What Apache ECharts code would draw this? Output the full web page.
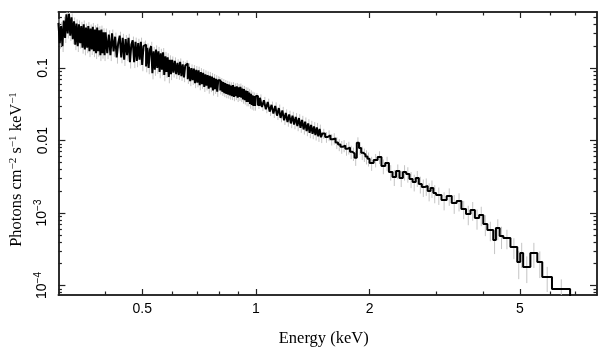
<!DOCTYPE html>
<html><head><meta charset="utf-8">
<script src="https://cdn.jsdelivr.net/npm/echarts@6/dist/echarts.min.js"></script>
<style>html,body{margin:0;padding:0;background:#fff}#c{width:608px;height:357px}</style>
</head><body><div id="c"></div>
<script>
// Bin edges (keV) – contiguous bins; last value is the upper edge of the final bin
const binEdges = [
  0.3000,0.3025,0.3050,0.3075,0.3100,0.3125,0.3150,0.3175,0.3200,0.3225,0.3250,0.3275,0.3300,0.3325,0.3350,0.3375,0.3400,0.3425,0.3450,0.3475,
  0.3500,0.3525,0.3550,0.3575,0.3600,0.3625,0.3650,0.3675,0.3700,0.3725,0.3750,0.3775,0.3800,0.3825,0.3850,0.3875,0.3900,0.3925,0.3950,0.3975,
  0.400,0.404,0.408,0.412,0.416,0.420,0.424,0.428,0.432,0.436,0.440,0.444,0.448,0.452,0.456,0.460,0.464,0.468,0.472,0.476,
  0.480,0.484,0.488,0.492,0.496,0.500,0.504,0.508,0.512,0.516,0.520,0.524,0.528,0.532,0.536,0.540,0.544,0.548,0.552,0.556,
  0.560,0.564,0.568,0.572,0.576,0.580,0.584,0.588,0.592,0.596,
  0.600,0.605,0.610,0.615,0.620,0.625,0.630,0.635,0.640,0.645,0.650,0.655,0.660,0.665,0.670,0.675,0.680,0.685,0.690,0.695,
  0.700,0.705,0.710,0.715,0.720,0.725,0.730,0.735,0.740,0.745,0.750,0.755,0.760,0.765,0.770,0.775,0.780,0.785,0.790,0.795,
  0.800,0.805,0.810,0.815,0.820,0.825,0.830,0.835,0.840,0.845,0.850,0.855,0.860,0.865,0.870,0.875,0.880,0.885,0.890,0.895,
  0.900,0.905,0.910,0.915,0.920,0.925,0.930,0.935,0.940,0.945,0.950,0.955,0.960,0.965,0.970,0.975,0.980,0.985,0.990,0.995,
  1.0000,1.0125,1.0250,1.0375,1.0500,1.0625,1.0750,1.0875,1.1000,1.1125,1.1250,1.1375,1.1500,1.1625,1.1750,1.1875,1.2000,1.2125,1.2250,1.2375,
  1.2500,1.2625,1.2750,1.2875,1.3000,1.3125,1.3250,1.3375,1.3500,1.3625,1.3750,1.3875,1.4000,1.4125,1.4250,1.4375,1.4500,1.4625,1.4750,1.4875,
  1.500,1.525,1.550,1.575,1.600,1.625,1.650,1.675,1.700,1.725,1.750,1.775,1.800,1.825,1.850,1.875,1.900,1.925,1.950,1.975,
  2.00,2.05,2.10,2.15,2.20,2.25,2.30,2.35,2.40,2.45,2.50,2.55,2.60,2.65,2.70,2.75,2.80,2.85,2.90,2.95,3.0,3.1,3.2,3.3,3.4,
  3.5,3.6,3.7,3.8,3.9,4.0,4.1,4.25,4.32,4.42,4.52,4.72,4.92,5.01,5.10,5.33,5.56,5.73,6.08,6.79
];
// Photons cm^-2 s^-1 keV^-1 per bin
const flux = [
  0.42,0.22,0.38,0.20,0.45,0.26,0.55,0.30,0.56,0.28,0.50,0.25,0.44,0.21,0.41,0.20,0.40,0.22,0.38,0.19,
  0.40,0.18,0.36,0.19,0.38,0.17,0.35,0.18,0.37,0.17,0.34,0.16,0.36,0.17,0.33,0.15,0.34,0.16,0.31,0.15,
  0.31,0.16,0.29,0.15,0.30,0.17,0.27,0.14,0.22,0.28,0.14,0.26,0.13,0.25,0.15,0.26,0.12,0.21,0.24,0.12,
  0.23,0.125,0.22,0.13,0.23,0.11,0.20,0.21,0.105,0.19,0.10,0.18,0.20,0.085,0.17,0.095,0.18,0.10,0.17,0.088,
  0.16,0.095,0.165,0.080,0.145,0.088,0.14,0.075,0.13,0.082,
  0.130,0.086,0.125,0.082,0.118,0.080,0.122,0.077,0.112,0.074,0.108,0.115,0.070,0.104,0.066,0.100,0.068,0.098,0.062,0.094,
  0.063,0.093,0.058,0.088,0.060,0.086,0.055,0.082,0.057,0.080,0.052,0.078,0.054,0.076,0.049,0.073,0.051,0.071,0.047,0.068,
  0.068,0.049,0.066,0.047,0.064,0.045,0.062,0.044,0.060,0.043,0.059,0.042,0.057,0.041,0.058,0.040,0.055,0.041,0.056,0.039,
  0.054,0.040,0.055,0.039,0.052,0.037,0.051,0.036,0.049,0.034,0.048,0.034,0.046,0.032,0.044,0.031,0.042,0.030,0.041,0.030,
  0.041,0.031,0.039,0.029,0.036,0.027,0.034,0.025,0.031,0.0235,0.030,0.022,0.028,0.0205,0.026,0.0190,0.024,0.0180,0.0228,0.0172,
  0.0220,0.0166,0.0212,0.0158,0.0204,0.0150,0.0192,0.0142,0.0182,0.0135,0.0172,0.0128,0.0164,0.0124,0.0156,0.0119,0.0152,0.0114,0.0144,0.0111,
  0.0125,0.0112,0.0118,0.0104,0.0107,0.0094,0.0088,0.0082,0.0085,0.0077,0.0080,0.0070,0.0066,0.0058,0.0093,0.0079,0.0068,0.0064,0.0060,0.0056,
  0.00489,0.00538,0.00592,0.00445,0.00489,0.00368,0.00314,0.00380,0.00304,0.00368,0.00345,0.00294,0.00268,0.00304,0.00251,0.00228,0.00236,0.00201,0.00221,0.00189,0.00177,0.00151,0.00172,0.00137,0.00146,
  0.00114,0.000969,0.00110,0.000853,0.000938,0.000705,0.000583,0.000424,0.000621,0.000482,0.000452,0.000340,0.000211,0.000281,0.000180,0.000281,0.000211,0.000131,0.0000895
];
// 1-sigma error per bin, percent of flux
const errPct = [
  13,16,14,17,13,15,12,15,12,16,13,15,13,16,14,17,13,16,14,17,13,17,14,16,13,17,14,16,13,17,14,17,13,16,14,17,13,16,14,17,
  13,17,14,17,13,16,14,18,15,13,17,14,18,14,17,14,18,15,13,17,14,18,15,17,14,18,15,14,17,15,18,14,15,18,15,18,14,17,15,18,15,17,14,18,15,17,14,18,15,17,
  11,14,12,14,12,14,11,14,12,14,12,11,14,12,15,12,14,12,15,13,14,12,15,13,14,12,15,13,14,12,15,13,14,12,15,13,14,12,15,13,
  10,12,10,12,10,12,10,13,11,12,10,13,11,12,10,13,11,12,11,13,11,12,11,13,11,13,11,13,11,13,12,13,12,14,12,14,12,14,12,14,
  10,12,11,12,11,12,11,13,11,13,12,13,12,13,12,14,12,14,13,14,13,14,13,15,13,15,14,15,14,15,14,16,14,16,15,16,15,16,15,17,
  16,17,17,18,18,19,19,20,19,20,20,21,21,23,19,20,21,21,22,22,
  22,21,20,23,22,24,25,23,25,24,24,25,26,25,26,27,27,28,27,28,27,28,27,29,28,
  28,30,29,31,30,32,30,36,32,34,30,32,42,38,40,38,40,38,36
];
const xMajorTicks = [0.5, 1, 2, 5];
const xMinorTicks = [0.4, 0.6, 0.7, 0.8, 0.9, 3, 4, 6, 7];
const yMajorTicks = [0.0001, 0.001, 0.01, 0.1];
const yMinorTicks = [0.00008,0.00009,0.0002,0.0003,0.0004,0.0005,0.0006,0.0007,0.0008,0.0009,
  0.002,0.003,0.004,0.005,0.006,0.007,0.008,0.009,0.02,0.03,0.04,0.05,0.06,0.07,0.08,0.09,0.2,0.3,0.4,0.5];
const yTickLabels = {'0.0001':'10{sup|−4}','0.001':'10{sup|−3}','0.01':'0.01','0.1':'0.1'};
const xTickLabels = {'0.5':'0.5','1':'1','2':'2','5':'5'};

const X_MIN = 0.3, X_MAX = 8.0, Y_MIN = 7.4e-5, Y_MAX = 0.592;

// step line points
const nBins = flux.length;
const linePts = [];
for (let i = 0; i < nBins; i++) linePts.push([binEdges[i], flux[i]]);
linePts.push([binEdges[nBins], flux[nBins - 1]]);
linePts.push([binEdges[nBins], 1e-7]);

// error bars at bin centres
const errData = flux.map((f, i) => [
  (binEdges[i] + binEdges[i + 1]) / 2, f * (1 - errPct[i] / 100), f * (1 + errPct[i] / 100)
]);

const lineCol = '#222';
function xAx(pos, ticks, len, showLabel, extra) {
  return Object.assign({
    type: 'log', logBase: 10, min: X_MIN, max: X_MAX, position: pos, gridIndex: 0,
    axisLine: { show: true, onZero: false, lineStyle: { color: lineCol, width: 1.5 } },
    axisTick: { show: true, inside: true, length: len, customValues: ticks, lineStyle: { color: lineCol, width: 1.2 } },
    axisLabel: showLabel ? {
      show: true, customValues: ticks, margin: 7, color: '#000', fontFamily: 'Liberation Sans', fontSize: 14,
      formatter: v => xTickLabels[String(+v.toPrecision(6))] || ''
    } : { show: false },
    splitLine: { show: false }, minorTick: { show: false }
  }, extra || {});
}
function yAx(pos, ticks, len, showLabel, extra) {
  return Object.assign({
    type: 'log', logBase: 10, min: Y_MIN, max: Y_MAX, position: pos, gridIndex: 0,
    axisLine: { show: true, onZero: false, lineStyle: { color: lineCol, width: 1.5 } },
    axisTick: { show: true, inside: true, length: len, customValues: ticks, lineStyle: { color: lineCol, width: 1.2 } },
    axisLabel: showLabel ? {
      show: true, customValues: ticks, rotate: 90, margin: 8, color: '#000', fontFamily: 'Liberation Sans', fontSize: 14,
      formatter: v => yTickLabels[String(+v.toPrecision(6))] || '',
      rich: { sup: { fontSize: 10, verticalAlign: 'bottom', padding: [0, 0, 7, 0], fontFamily: 'Liberation Sans', color: '#000' } }
    } : { show: false },
    splitLine: { show: false }, minorTick: { show: false }
  }, extra || {});
}

const chart = echarts.init(document.getElementById('c'), null, { renderer: 'canvas' });
chart.setOption({
  animation: false,
  backgroundColor: '#fff',
  grid: { left: 55, right: 11, top: 12, bottom: 62, containLabel: false },
  xAxis: [
    xAx('bottom', xMajorTicks, 6, true, {
      name: 'Energy (keV)', nameLocation: 'middle', nameGap: 35,
      nameTextStyle: { fontFamily: 'Liberation Serif', fontSize: 16.5, color: '#000', padding: [0, 8, 0, 0] }
    }),
    xAx('bottom', xMinorTicks, 3.5, false),
    xAx('top', xMajorTicks, 6, false),
    xAx('top', xMinorTicks, 3.5, false)
  ],
  yAxis: [
    yAx('left', yMajorTicks, 7, true, {
      name: 'Photons cm{sup|−2} s{sup|−1} keV{sup|−1}', nameLocation: 'middle', nameGap: 27, nameRotate: 90,
      nameTextStyle: { fontFamily: 'Liberation Serif', fontSize: 16.5, color: '#000', padding: [0, 32, 0, 0],
        rich: { sup: { fontFamily: 'Liberation Serif', fontSize: 11, verticalAlign: 'bottom', padding: [0, 0, 7, 0], color: '#000' } } }
    }),
    yAx('left', yMinorTicks, 3.5, false),
    yAx('right', yMajorTicks, 7, false),
    yAx('right', yMinorTicks, 3.5, false)
  ],
  series: [
    {
      type: 'custom', xAxisIndex: 0, yAxisIndex: 0, clip: true, z: 1,
      encode: { x: 0, y: [1, 2] },
      data: errData,
      renderItem: (params, api) => {
        const p1 = api.coord([api.value(0), api.value(1)]);
        const p2 = api.coord([api.value(0), api.value(2)]);
        return { type: 'line', shape: { x1: p1[0], y1: p1[1], x2: p2[0], y2: p2[1] },
          style: { stroke: '#c4c4c4', lineWidth: 1 } };
      }
    },
    {
      type: 'line', xAxisIndex: 0, yAxisIndex: 0, step: 'end', showSymbol: false, symbol: 'none',
      clip: true, z: 3, data: linePts,
      lineStyle: { color: '#000', width: 2 }
    }
  ]
});
</script>
</body></html>
